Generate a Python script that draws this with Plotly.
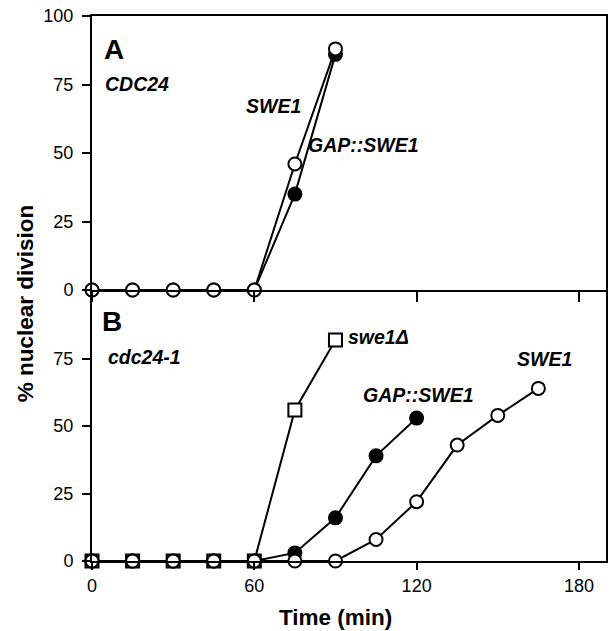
import plotly.graph_objects as go

# ---- data ----
time_a = [0, 15, 30, 45, 60, 75, 90]
a_swe1 = [0, 0, 0, 0, 0, 46, 88]          # open circles
a_gap_swe1 = [0, 0, 0, 0, 0, 35, 86]      # filled circles

time_b_swe1d = [0, 15, 30, 45, 60, 75, 90]
b_swe1d = [0, 0, 0, 0, 0, 56, 82]         # open squares
time_b_gap = [0, 15, 30, 45, 60, 75, 90, 105, 120]
b_gap_swe1 = [0, 0, 0, 0, 0, 3, 16, 39, 53]  # filled circles
time_b_swe1 = [0, 15, 30, 45, 60, 75, 90, 105, 120, 135, 150, 165]
b_swe1 = [0, 0, 0, 0, 0, 0, 0, 8, 22, 43, 54, 64]  # open circles

x_ticks = [0, 60, 120, 180]
y_ticks_a = [0, 25, 50, 75, 100]
y_ticks_b = [0, 25, 50, 75]

FONT = "Liberation Sans, Arial, Helvetica, sans-serif"
LW = 2
MS = 13

L, R, T, B = 92, 4, 16, 70
W, H = 612, 631
PH = H - T - B

fig = go.Figure()

def add(x, y, xa, ya, symbol, fill):
    fig.add_trace(go.Scatter(
        x=x, y=y, xaxis=xa, yaxis=ya, mode="lines+markers",
        line=dict(color="black", width=LW),
        marker=dict(symbol=symbol, size=MS, color=fill,
                    line=dict(color="black", width=LW)),
        cliponaxis=False, showlegend=False, hoverinfo="skip"))

# Panel A
add(time_a, a_gap_swe1, "x", "y", "circle", "black")
add(time_a, a_swe1, "x", "y", "circle", "white")
# Panel B
add(time_b_swe1d, b_swe1d, "x2", "y2", "square", "white")
add(time_b_gap, b_gap_swe1, "x2", "y2", "circle", "black")
add(time_b_swe1, b_swe1, "x2", "y2", "circle", "white")

split = (H - B - 290) / PH

axis_common = dict(showline=True, linecolor="black", linewidth=LW,
                   ticks="outside", tickcolor="black", tickwidth=LW, ticklen=8,
                   showgrid=False, zeroline=False,
                   tickfont=dict(family=FONT, size=18, color="black"))

fig.update_layout(
    width=W, height=H,
    margin=dict(l=L, r=R, t=T, b=B),
    plot_bgcolor="white", paper_bgcolor="white",
    xaxis=dict(axis_common, range=[0, 190], tickvals=x_ticks, showticklabels=False,
               domain=[0, 1], anchor="y", mirror=True, ticklen=10),
    yaxis=dict(axis_common, range=[0, 100], tickvals=y_ticks_a,
               domain=[split, 1], anchor="x", mirror=True, ticklabelstandoff=5),
    xaxis2=dict(axis_common, range=[0, 190], tickvals=x_ticks, ticklen=7,
                domain=[0, 1], anchor="y2", ticklabelstandoff=0),
    yaxis2=dict(axis_common, range=[0, 100.5], tickvals=y_ticks_b,
                domain=[0, split], anchor="x2", mirror=True, ticklabelstandoff=5),
)

def lab(text, x, y, xr, yr, size=19.5, xanchor="center", italic=True):
    t = f"<b><i>{text}</i></b>" if italic else f"<b>{text}</b>"
    fig.add_annotation(text=t, x=x, y=y, xref=xr, yref=yr, showarrow=False,
                       xanchor=xanchor, yanchor="middle",
                       font=dict(family=FONT, size=size, color="black"))

lab("A", 8.1, 87.6, "x", "y", size=28, italic=False)
lab("CDC24", 4.2, 75.2, "x", "y", xanchor="left")
lab("SWE1", 67, 67.2, "x", "y")
lab("GAP::SWE1", 100.5, 52.9, "x", "y")

lab("B", 7.4, 88.8, "x2", "y2", size=28, italic=False)
lab("cdc24-1", 5.0, 75.7, "x2", "y2", xanchor="left")
lab("swe1Δ", 94.0, 83.2, "x2", "y2", xanchor="left")
lab("GAP::SWE1", 120.7, 61.6, "x2", "y2")
lab("SWE1", 167.1, 75, "x2", "y2")

def px_to_paper(px, py):
    return (px - L) / (W - L - R), (H - B - py) / PH

# axis titles
tx, ty = px_to_paper(25, 303)
fig.add_annotation(text="<b>% nuclear division</b>", textangle=-90,
                   x=tx, y=ty, xref="paper", yref="paper", showarrow=False,
                   xanchor="center", yanchor="middle",
                   font=dict(family=FONT, size=22.5, color="black"))
tx, ty = px_to_paper(336, 617)
fig.add_annotation(text="<b>Time (min)</b>",
                   x=tx, y=ty, xref="paper", yref="paper", showarrow=False,
                   xanchor="center", yanchor="middle",
                   font=dict(family=FONT, size=22.5, color="black"))

fig.write_html("out.html")
